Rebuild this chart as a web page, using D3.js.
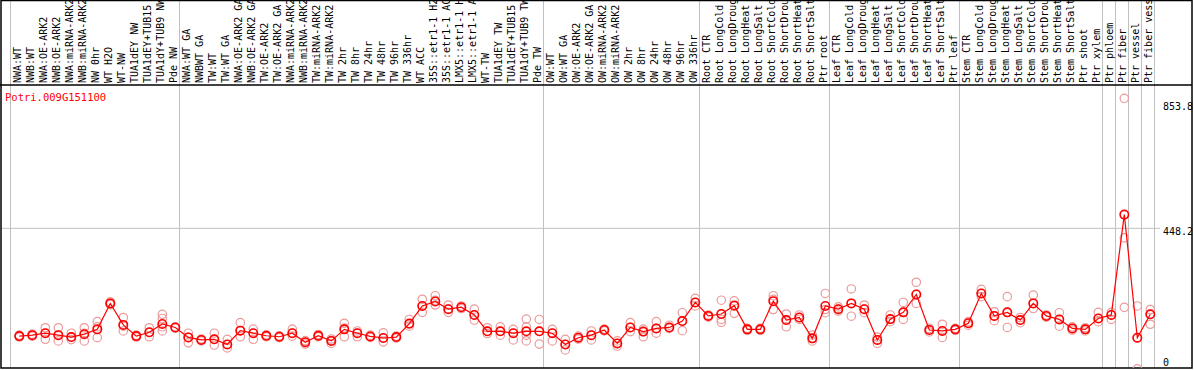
<!DOCTYPE html>
<html lang="en">
<head>
    <meta charset="UTF-8">
    <title>Potri.009G151100</title>
    <script src="https://d3js.org/d3.v7.min.js"></script>
    <style>
        body {
            margin: 0;
            background: #fff;
        }
        svg text {
            font-family: "DejaVu Sans Mono", monospace;
            font-size: 10px;
        }
        .cat-label {
            fill: #000;
        }
        .grid {
            stroke: #c0c0c0;
            stroke-width: 1;
        }
        .frame {
            stroke: #000;
            stroke-width: 1.5;
        }
    </style>
</head>
<body>
    <svg width="1194" height="370"></svg>
    <script>
        const geneName = "Potri.009G151100";

        const categories = [
            "NWA:WT", "NWB:WT", "NWA:OE-ARK2", "NWB:OE-ARK2", "NWA:miRNA-ARK2", "NWB:miRNA-ARK2",
            "NW 0hr", "WT H2O", "WT-NW", "TUA1dEY NW", "TUA1dEY+TUB15 NW", "TUA1dY+TUB9 NW", "Pde NW",
            "NWA:WT GA", "NWBWT GA", "TW:WT", "TW:WT GA", "NWA:OE-ARK2 GA", "NWB:OE-ARK2 GA",
            "TW:OE-ARK2", "TW:OE-ARK2 GA", "NWA:miRNA-ARK2", "NWB:miRNA-ARK2", "TW:miRNA-ARK2", "TW:miRNA-ARK2",
            "TW 2hr", "TW 8hr", "TW 24hr", "TW 48hr", "TW 96hr", "TW 336hr", "WT ACC",
            "35S::etr1-1 H2O", "35S::etr1-1 ACC", "LMX5::etr1-1 H2O", "LMX5::etr1-1 ACC",
            "WT-TW", "TUA1dEY TW", "TUA1dEY+TUB15 TW", "TUA1dY+TUB9 TW", "Pde TW",
            "OW:WT", "OW:WT GA", "OW:OE-ARK2", "OW:OE-ARK2 GA", "OW:miRNA-ARK2", "OW:miRNA-ARK2",
            "OW 2hr", "OW 8hr", "OW 24hr", "OW 48hr", "OW 96hr", "OW 336hr",
            "Root CTR", "Root LongCold", "Root LongDrought", "Root LongHeat", "Root LongSalt",
            "Root ShortCold", "Root ShortDrought", "Root ShortHeat", "Root ShortSalt", "Ptr root",
            "Leaf CTR", "Leaf LongCold", "Leaf LongDrought", "Leaf LongHeat", "Leaf LongSalt",
            "Leaf ShortCold", "Leaf ShortDrought", "Leaf ShortHeat", "Leaf ShortSalt", "Ptr leaf",
            "Stem CTR", "Stem LongCold", "Stem LongDrought", "Stem LongHeat", "Stem LongSalt",
            "Stem ShortCold", "Stem ShortDrought", "Stem ShortHeat", "Stem ShortSalt", "Ptr shoot", "Ptr xylem",
            "Ptr phloem", "Ptr fiber", "Ptr vessel", "Ptr fiber vessel"
        ];

        // number of samples in each block between the grey separators
        const groupSizes = [13, 28, 12, 10, 10, 11, 1, 1, 1, 1];

        const means = [
            112, 115, 121, 115, 109, 118, 133, 214, 147, 112, 124, 150, 139,
            108, 100, 102, 86, 129, 121, 113, 110, 121, 93, 113, 97,
            133, 121, 111, 106, 109, 151, 206, 220, 196, 202, 178, 127, 127, 121, 127, 127,
            121, 86, 107, 115, 131, 89, 139, 126, 136, 139, 159, 217,
            175, 181, 207, 133, 133, 221, 162, 170, 105, 206,
            196, 214, 196, 100, 165, 186, 242, 131, 128, 133,
            152, 245, 175, 186, 162, 214, 175, 164, 136, 133, 167,
            178, 491, 107, 180
        ];

        const replicates = [
            [112, 109, 115], [115, 118, 112], [138, 121, 102], [138, 115, 97], [121, 109, 101],
            [138, 121, 97], [157, 141, 107], [219, 214, 210], [170, 143, 128], [112, 115, 109],
            [138, 123, 110], [180, 167, 141, 128], [140, 137, 139],
            [121, 108, 91], [100, 103, 97], [121, 102, 84], [102, 86, 75], [154, 129, 110],
            [134, 121, 102], [113, 116, 110], [110, 113, 107], [134, 121, 112], [98, 92, 87],
            [113, 117, 110], [103, 97, 89], [152, 137, 110], [128, 121, 110], [111, 115, 108],
            [122, 106, 94], [109, 112, 106], [164, 150, 143], [227, 206, 186], [238, 224, 209],
            [209, 196, 186], [202, 206, 198], [196, 178, 162], [138, 127, 120], [141, 127, 115],
            [133, 121, 100], [165, 141, 115, 97], [164, 127, 87],
            [133, 121, 97], [102, 86, 69], [107, 112, 103], [128, 115, 100], [131, 134, 128],
            [97, 89, 81], [154, 139, 126], [134, 126, 110], [157, 136, 121], [146, 139, 136],
            [185, 159, 129], [230, 217, 206],
            [174, 178, 171], [224, 181, 164, 155], [222, 209, 183], [133, 136, 130], [133, 130, 136],
            [238, 227, 195], [181, 162, 141], [178, 170, 164], [115, 105, 97], [245, 195, 185],
            [203, 196, 190], [259, 214, 174], [196, 185, 209], [100, 89, 109], [178, 165, 157],
            [217, 186, 164], [280, 242, 214], [136, 131, 125], [149, 128, 108], [133, 136, 130],
            [157, 152, 146], [258, 245, 235], [188, 174, 160], [235, 186, 139], [170, 162, 154],
            [240, 214, 198], [174, 178, 171], [185, 164, 143], [141, 136, 131], [138, 133, 128],
            [186, 167, 157],
            [186, 178, 164], [853.8, 418.5, 201.6], [206, 106, 10], [195, 180, 149]
        ];

        const yTicks = [0, 448.2, 853.8];

        const svg = d3.select("svg");
        const plot = { left: 1, right: 1192, top: 85, bottom: 368 };

        const x = d3.scaleBand()
            .domain(d3.range(categories.length))
            .range([11, 1155])
            .padding(0);

        const y = d3.scaleLinear()
            .domain([0, d3.max(yTicks)])
            .range([372, 98.3]);

        const px = i => x(i) + 8.3;

        svg.append("defs").append("clipPath")
            .attr("id", "plot-clip")
            .append("rect")
            .attr("x", plot.left).attr("y", plot.top)
            .attr("width", plot.right - plot.left)
            .attr("height", plot.bottom - plot.top);

        // grey separators between sample blocks
        const bounds = [0, ...Array.from(d3.cumsum(groupSizes))];
        const bx = k => k < categories.length ? x(k) : x.range()[1];
        svg.selectAll(".sep")
            .data(bounds)
            .enter().append("line")
            .attr("class", "grid")
            .attr("x1", d => bx(d) - 0.5)
            .attr("x2", d => bx(d) - 0.5)
            .attr("y1", 0)
            .attr("y2", plot.bottom);

        // horizontal guide at the middle tick
        svg.append("line")
            .attr("class", "grid")
            .attr("x1", plot.left).attr("x2", 1160)
            .attr("y1", y(yTicks[1])).attr("y2", y(yTicks[1]));

        // frame
        svg.append("rect")
            .attr("x", plot.left).attr("y", 0.5)
            .attr("width", plot.right - plot.left)
            .attr("height", plot.bottom - 0.5)
            .attr("fill", "none")
            .attr("class", "frame");
        svg.append("line")
            .attr("class", "frame")
            .attr("x1", 0).attr("x2", plot.right)
            .attr("y1", plot.top).attr("y2", plot.top);

        // rotated sample labels
        svg.selectAll(".cat-label")
            .data(categories)
            .enter().append("text")
            .attr("class", "cat-label")
            .attr("transform", (d, i) => `translate(${x(i) + 10},83) rotate(-90)`)
            .text(d => d);

        const g = svg.append("g").attr("clip-path", "url(#plot-clip)");

        const repPoints = replicates.flatMap((vals, i) => vals.map(v => ({ i, v })));
        g.selectAll(".rep")
            .data(repPoints)
            .enter().append("circle")
            .attr("class", "rep")
            .attr("cx", d => px(d.i))
            .attr("cy", d => y(d.v))
            .attr("r", 4.2)
            .attr("fill", "none")
            .attr("stroke", "#eb9a9a")
            .attr("stroke-width", 1.2);

        g.append("path")
            .datum(means)
            .attr("fill", "none")
            .attr("stroke", "#ff0000")
            .attr("stroke-width", 1.2)
            .attr("d", d3.line().x((d, i) => px(i)).y(d => y(d)));

        g.selectAll(".mean")
            .data(means)
            .enter().append("circle")
            .attr("class", "mean")
            .attr("cx", (d, i) => px(i))
            .attr("cy", d => y(d))
            .attr("r", 4.2)
            .attr("fill", "none")
            .attr("stroke", "#ff0000")
            .attr("stroke-width", 1.6);

        // value labels on the right
        const maxTick = d3.max(yTicks);
        svg.selectAll(".y-label")
            .data(yTicks)
            .enter().append("text")
            .attr("class", "y-label")
            .attr("x", 1163)
            .attr("y", d => d === 0 ? 366 : d === maxTick ? y(d) + 12 : y(d) + 7)
            .attr("fill", "#000")
            .text(d => d);

        svg.append("text")
            .attr("x", 5)
            .attr("y", 101)
            .attr("fill", "#ff0000")
            .style("font-size", "10.5px")
            .text(geneName);
    </script>
</body>
</html>
